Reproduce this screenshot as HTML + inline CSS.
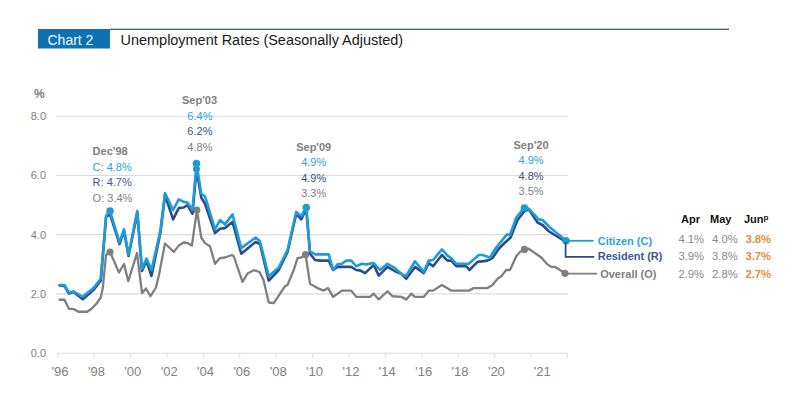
<!DOCTYPE html>
<html><head><meta charset="utf-8">
<style>
html,body{margin:0;padding:0;background:#fff;width:800px;height:401px;overflow:hidden;}
svg{position:absolute;left:0;top:0;}
text{font-family:"Liberation Sans",sans-serif;}
</style></head><body>
<svg width="800" height="401" viewBox="0 0 800 401">
<rect x="38" y="29" width="72" height="19.5" fill="#1071b0"/>
<rect x="110" y="28.7" width="619" height="1.3" fill="#3d5f66"/>
<text x="47.5" y="44.7" font-size="14" fill="#eefaff">Chart 2</text>
<text x="120.6" y="44.7" font-size="14.45" fill="#1a1a1a">Unemployment Rates (Seasonally Adjusted)</text>
<g stroke="#dcdcdc" stroke-width="1.1">
<line x1="56" y1="116.25" x2="568" y2="116.25"/>
<line x1="56" y1="175.45" x2="568" y2="175.45"/>
<line x1="56" y1="234.65" x2="568" y2="234.65"/>
<line x1="56" y1="293.85" x2="568" y2="293.85"/>
<line x1="57" y1="353.2" x2="568" y2="353.2"/>
<line x1="57.70" y1="353.2" x2="57.70" y2="357.5"/><line x1="94.11" y1="353.2" x2="94.11" y2="357.5"/><line x1="130.52" y1="353.2" x2="130.52" y2="357.5"/><line x1="166.93" y1="353.2" x2="166.93" y2="357.5"/><line x1="203.34" y1="353.2" x2="203.34" y2="357.5"/><line x1="239.75" y1="353.2" x2="239.75" y2="357.5"/><line x1="276.16" y1="353.2" x2="276.16" y2="357.5"/><line x1="312.57" y1="353.2" x2="312.57" y2="357.5"/><line x1="348.98" y1="353.2" x2="348.98" y2="357.5"/><line x1="385.39" y1="353.2" x2="385.39" y2="357.5"/><line x1="421.80" y1="353.2" x2="421.80" y2="357.5"/><line x1="458.21" y1="353.2" x2="458.21" y2="357.5"/><line x1="494.62" y1="353.2" x2="494.62" y2="357.5"/><line x1="531.03" y1="353.2" x2="531.03" y2="357.5"/><line x1="567.44" y1="353.2" x2="567.44" y2="357.5"/>
</g>
<g font-size="11" fill="#808080" text-anchor="end">
<text x="46" y="120.2">8.0</text>
<text x="46" y="179.4">6.0</text>
<text x="46" y="238.6">4.0</text>
<text x="46" y="297.8">2.0</text>
<text x="46" y="357.1">0.0</text>
</g>
<text x="34" y="98" font-size="12" font-weight="bold" fill="#7a7a7a">%</text>
<g font-size="13" fill="#808080"><text x="51.60" y="376">'96</text><text x="87.96" y="376">'98</text><text x="124.32" y="376">'00</text><text x="160.68" y="376">'02</text><text x="197.04" y="376">'04</text><text x="233.40" y="376">'06</text><text x="269.76" y="376">'08</text><text x="306.12" y="376">'10</text><text x="342.48" y="376">'12</text><text x="378.84" y="376">'14</text><text x="415.20" y="376">'16</text><text x="451.56" y="376">'18</text><text x="487.92" y="376">'20</text><text x="533.75" y="376">'21</text></g>
<g fill="none" stroke-linejoin="round" stroke-linecap="round">
<path d="M59.5,299.75 L64.4,299.75 L68.9,308.75 L73.75,309.1 L78.25,311.75 L87.25,311.75 L91.75,308.5 L96.25,304 L100.75,297.5 L102.8,288 L106,255 L110,252 L119,272.5 L124,264 L128.25,281.25 L137,253 L142,293.2 L146,288.5 L150.5,296.2 L155.75,288 L158.75,276 L165,243.5 L173.75,251.9 L178.75,245.6 L183.75,242.5 L187.5,243.1 L191.9,245.6 L196.9,210 L201.25,237.5 L205,243.1 L210,246.25 L215,263.75 L220,258.1 L225,257.5 L231.9,255 L233.75,256.25 L242.5,281.9 L247.5,273.5 L253.75,270.2 L259.5,272 L263.5,280 L268.75,302.5 L273.75,303.1 L285,286.25 L287.5,285 L293.75,270 L297.5,258.1 L301.25,257.5 L305.6,254.4 L310,283.75 L317.5,288.1 L323.75,290.6 L328.1,288.1 L333.1,296.9 L341.9,290.6 L351.25,290.6 L356.25,296.9 L370,296.9 L373.75,293.75 L378.75,299.4 L387.5,291.25 L392.5,296.25 L401.25,296.9 L406.25,299.4 L411.25,293.75 L415,296.9 L423.75,296.9 L428.75,290.6 L433.1,290.6 L441.9,285 L451.25,290.6 L468.75,290.6 L473.75,288.1 L487.5,288.1 L492.5,285 L497.5,278.75 L501.25,276.25 L506.25,270 L510,270 L516.25,256.25 L520,251.9 L524.4,249.4 L528.75,248.75 L541.25,257.5 L547.5,264.4 L551.25,266.9 L555,266.9 L565,273.1" stroke="#7f7f7f" stroke-width="2.3"/>
</g>
<g fill="#7f7f7f">
<circle cx="110" cy="252" r="3.6"/><circle cx="196.9" cy="210" r="3.6"/><circle cx="305.6" cy="254.6" r="3.6"/><circle cx="524.4" cy="249.4" r="3.6"/><circle cx="565" cy="273.3" r="3.6"/>
</g>
<g fill="none" stroke-linejoin="round" stroke-linecap="round">
<path d="M59.5,285.5 L64.5,286 L68.9,293.5 L73.4,292 L82.8,299.3 L94,289.5 L100.8,280.5 L106.1,217 L110,214 L119.5,244 L124,231 L128.5,256 L137.3,213 L142,271 L146.5,261 L151.5,276 L160.5,232 L165,195 L173.1,219.4 L178.75,208.1 L183.75,207.5 L187.5,205 L192.5,213.75 L196.5,169.5 L201.25,197.5 L205,203.75 L215,233.1 L220,228.75 L225,228.1 L232.5,221.9 L241.25,253.75 L255.6,242 L260,244 L268.75,280.6 L278.75,270 L287.5,252 L296.25,213.75 L301.25,219.4 L306.25,208.5 L310,253.75 L315,260 L320,260.6 L328.75,260.6 L333.1,270 L337.5,266.9 L351.25,266.9 L356.25,270 L360.6,270.6 L365,273.1 L373.75,265 L378.75,275.6 L387.5,266.9 L395,271.25 L401.25,273.75 L406.25,278.75 L415,266.9 L423.75,273.1 L428.75,263.1 L433.1,266.25 L441.9,255 L447.5,260.6 L451.25,260.6 L456.25,266.25 L466.25,266.25 L469.4,270 L477.5,261.9 L487.5,260.6 L492.5,258.1 L498.75,248.75 L503.75,243.75 L510.6,237.5 L517.5,220 L524.4,211.25 L528.75,209.4 L537.5,222.5 L542.5,225 L548.75,231.25 L566,242" stroke="#2e4a8a" stroke-width="2.6"/>
</g>
<circle cx="196.5" cy="169" r="3.3" fill="#2a6fb8"/>
<g fill="none" stroke-linejoin="round" stroke-linecap="round">
<path d="M59.5,285 L64.5,285 L68.9,292.9 L73.4,291.4 L82.8,296.8 L94,287.5 L100.8,278.5 L106.1,215.75 L110,211 L119.5,242.5 L124,229.3 L128.5,254.7 L137.3,211 L142,269 L146.5,258.5 L151.5,270 L160.5,230 L165,193.1 L173.1,210 L178.75,199.4 L183.75,201.9 L187.5,202.5 L192.5,210 L196.5,163.5 L201.25,193.75 L205,196.25 L215,229.4 L220,220 L225,224.4 L232.5,214.4 L241.25,248.1 L255.6,237.5 L260,241.25 L268.75,276.25 L278.75,267.5 L287.5,250 L296.25,211.9 L301.25,216.25 L306.25,207.5 L310,251.25 L315,254.4 L328.75,254.4 L333.1,270 L337.5,264.4 L341.9,263.75 L346.25,260.6 L351.25,260.6 L356.25,266.25 L361.9,263.75 L366.25,264.4 L373.75,263 L380,270 L387.5,263.75 L395,268.1 L402.5,275 L406.25,275.6 L415,261.25 L423.75,271.9 L428.75,260.6 L433.1,260 L441.9,249.4 L447.5,255.6 L451.25,258.1 L456.25,263.75 L468.75,263.75 L478.75,255 L482.5,255 L490,257.5 L496.25,247.5 L506.9,234.4 L510,235 L516.25,217.5 L524.4,207.5 L528.75,208.75 L538.75,219.4 L542.5,220 L550,227.5 L566,240.6" stroke="#1c9cd8" stroke-width="2.6"/>
</g>

<g fill="#1c9cd8">
<circle cx="110" cy="211" r="3.8"/><circle cx="196.5" cy="163.5" r="3.8"/><circle cx="306.25" cy="207.5" r="3.8"/><circle cx="524.4" cy="208" r="3.8"/><circle cx="566" cy="240.8" r="3.8"/>
</g>
<g stroke-width="1.8" fill="none">
<line x1="566" y1="240.8" x2="593.5" y2="240.8" stroke="#1c9cd8"/>
<polyline points="565.6,242 565.6,256.8 594.2,256.8" stroke="#2e4a8a"/>
<line x1="565" y1="273.6" x2="597.2" y2="273.6" stroke="#7f7f7f"/>
</g>
<g font-size="11" font-weight="bold">
<text x="597.7" y="245.2" fill="#27a4dc">Citizen (C)</text>
<text x="597.7" y="260.3" fill="#3a5796">Resident (R)</text>
<text x="600.2" y="278" fill="#808080">Overall (O)</text>
</g>
<g font-size="11" font-weight="bold" fill="#111">
<text x="681" y="222.6">Apr</text>
<text x="710" y="222.6">May</text>
<text x="744" y="222.6">Jun<tspan font-size="8" dy="-2.5">p</tspan></text>
</g>
<g font-size="11.3" fill="#8a8a8a">
<text x="678.4" y="243.3">4.1%</text><text x="712" y="243.3">4.0%</text>
<text x="678.4" y="260.3">3.9%</text><text x="712" y="260.3">3.8%</text>
<text x="678.4" y="277.9">2.9%</text><text x="712" y="277.9">2.8%</text>
</g>
<g font-size="11.3" font-weight="bold" fill="#e68c3c">
<text x="745.4" y="243.3">3.8%</text>
<text x="745.4" y="260.3">3.7%</text>
<text x="745.4" y="277.9">2.7%</text>
</g>
<g font-size="11">
<text x="92.6" y="154.8" font-weight="bold" fill="#808080">Dec'98</text>
<text x="92.6" y="171.1" fill="#27a4dc">C: 4.8%</text>
<text x="92.6" y="186" fill="#3a5796">R: 4.7%</text>
<text x="92.6" y="202.4" fill="#808080">O: 3.4%</text>
</g>
<g font-size="11" text-anchor="middle">
<text x="199.5" y="104" font-weight="bold" fill="#808080">Sep'03</text>
<text x="199.9" y="120.1" fill="#27a4dc">6.4%</text>
<text x="199.9" y="135.1" fill="#3a4f80">6.2%</text>
<text x="199.9" y="150.8" fill="#808080">4.8%</text>
<text x="313.7" y="150.9" font-weight="bold" fill="#808080">Sep'09</text>
<text x="313.7" y="166.4" fill="#27a4dc">4.9%</text>
<text x="313.7" y="182.3" fill="#3a4f80">4.9%</text>
<text x="313.7" y="197.3" fill="#808080">3.3%</text>
<text x="531" y="149.1" font-weight="bold" fill="#808080">Sep'20</text>
<text x="531" y="164.2" fill="#27a4dc">4.9%</text>
<text x="531" y="180.1" fill="#3a4f80">4.8%</text>
<text x="531" y="195.4" fill="#808080">3.5%</text>
</g>
</svg>
</body></html>
